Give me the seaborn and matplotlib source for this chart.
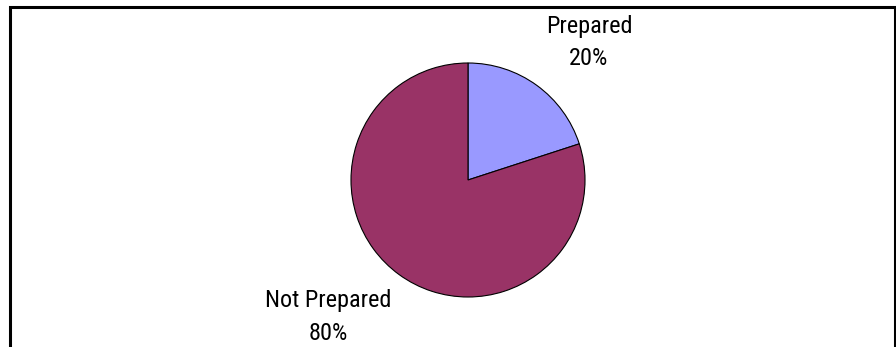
import matplotlib
matplotlib.use("Agg")
import matplotlib.pyplot as plt
import seaborn as sns
from matplotlib.patches import Rectangle
from matplotlib import font_manager

categories = ["Prepared", "Not Prepared"]
values = [20, 80]
pct_labels = ["20%", "80%"]
colors = ["#9999FF", "#993366"]

sns.set_theme(style="white")
names = {f.name for f in font_manager.fontManager.ttflist}
fam = "Liberation Sans"
for cand in ["Liberation Sans Narrow", "Arial Narrow", "Roboto Condensed", "Open Sans Condensed"]:
    if cand in names:
        fam = cand
        break
plt.rcParams['font.family'] = [fam, 'DejaVu Sans']

W, H = 896, 347
fig = plt.figure(figsize=(W / 100, H / 100), dpi=100)
ax = fig.add_axes([0, 0, 1, 1])
ax.set_xlim(0, W)
ax.set_ylim(0, H)
ax.set_aspect("equal")
ax.axis("off")

ax.pie(values, colors=colors, startangle=90, counterclock=False,
       center=(468, H - 180), radius=117,
       wedgeprops=dict(edgecolor="black", linewidth=0.8))
ax.set_xlim(0, W)
ax.set_ylim(0, H)

label_pos = [(589, H - 42), (328, H - 317)]
for (x, y), c, p in zip(label_pos, categories, pct_labels):
    ax.text(x, y, f"{c}\n{p}", ha="center", va="center", fontsize=17.5,
            color="black", linespacing=1.5)

border = Rectangle((9.5, -10), 885, H - 6.5 + 10, fill=False, edgecolor="black",
                   linewidth=2.2, transform=ax.transData, clip_on=False)
ax.add_patch(border)

fig.savefig("out.png", dpi=100, facecolor="white")
